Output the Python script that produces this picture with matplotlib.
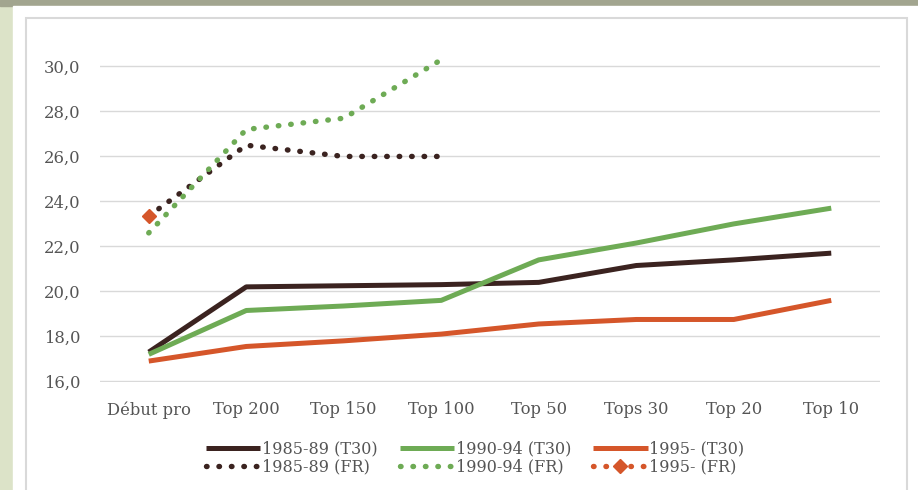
import numpy as np
import matplotlib
matplotlib.use("Agg")
from matplotlib import pyplot as plt
from matplotlib.patches import Rectangle

categories = ["Début pro", "Top 200", "Top 150", "Top 100", "Top 50", "Tops 30", "Top 20", "Top 10"]

t30_8589 = [17.3, 20.2, 20.25, 20.3, 20.4, 21.15, 21.4, 21.7]
t30_9094 = [17.2, 19.15, 19.35, 19.6, 21.4, 22.15, 23.0, 23.7]
t30_95 = [16.9, 17.55, 17.8, 18.1, 18.55, 18.75, 18.75, 19.6]

fr_8589 = [23.35, 26.5, 26.0, 26.0]
fr_9094 = [22.6, 27.2, 27.7, 30.3]
fr_95 = [23.35]

y_ticks = [16, 18, 20, 22, 24, 26, 28, 30]

brown = "#3b2320"
green = "#6eab55"
orange = "#d5562a"
grey = "#555555"

plt.rcParams['font.family'] = ['DejaVu Serif']

fig = plt.figure(figsize=(9.18, 4.9), dpi=100)
fig.patch.set_facecolor("#dce3c8")
# backdrop: top strip, white card, thin border
fig.patches.append(Rectangle((0, 1 - 6/490), 1, 6/490, transform=fig.transFigure,
                             color="#a2a58f", zorder=-3))
fig.patches.append(Rectangle((13/918, 0), 1, 1 - 6/490, transform=fig.transFigure,
                             color="white", zorder=-2))
fig.patches.append(Rectangle((26/918, -0.01), 881/918, 1 - 18/490 + 0.01, transform=fig.transFigure,
                             fill=False, edgecolor="#d9d9d9", lw=1.5, zorder=-1))

ax = fig.add_axes([100/918, 1 - 382/490, 780/918, (382 - 44)/490])
ax.set_facecolor("none")
ax.set_zorder(2)
x = np.arange(len(categories))

dot = (0, (0.1, 2.2))
l1, = ax.plot(x, t30_8589, color=brown, lw=3.6, solid_capstyle="butt", label="1985-89 (T30)")
l2, = ax.plot(x, t30_9094, color=green, lw=3.6, solid_capstyle="butt", label="1990-94 (T30)")
l3, = ax.plot(x, t30_95, color=orange, lw=3.6, solid_capstyle="butt", label="1995- (T30)")
l4, = ax.plot(x[:len(fr_8589)], fr_8589, color=brown, lw=3.9, linestyle=dot,
              dash_capstyle="round", label="1985-89 (FR)", clip_on=False)
l5, = ax.plot(x[:len(fr_9094)], fr_9094, color=green, lw=3.9, linestyle=dot,
              dash_capstyle="round", label="1990-94 (FR)", clip_on=False)
l6, = ax.plot(x[:len(fr_95)], fr_95, color=orange, lw=3.9, linestyle=dot,
              dash_capstyle="round", marker="D", markersize=7, label="1995- (FR)")

ax.set_xlim(-0.5, len(categories) - 0.5)
ax.set_ylim(15.97, 31)
ax.set_yticks(y_ticks)
ax.set_yticklabels([f"{v:.1f}".replace(".", ",") for v in y_ticks])
ax.set_xticks(x)
ax.set_xticklabels(categories)
ax.grid(axis="y", color="#d9d9d9", lw=1)
ax.set_axisbelow(True)
for s in ax.spines.values():
    s.set_visible(False)
ax.tick_params(length=0, colors=grey, labelsize=11.8)
ax.tick_params(axis="y", pad=14)
ax.tick_params(axis="x", pad=14)

leg = fig.legend([l1, l4, l2, l5, l3, l6],
                 [h.get_label() for h in [l1, l4, l2, l5, l3, l6]],
                 ncol=3, loc="center", bbox_to_anchor=(475/918, 1 - 458/490),
                 frameon=False, fontsize=11.5, handlelength=3.4, handletextpad=0.1,
                 columnspacing=1.4, labelspacing=0.1, numpoints=1)
for t in leg.get_texts():
    t.set_color(grey)

fig.savefig("out.png", dpi=100, facecolor=fig.get_facecolor())
